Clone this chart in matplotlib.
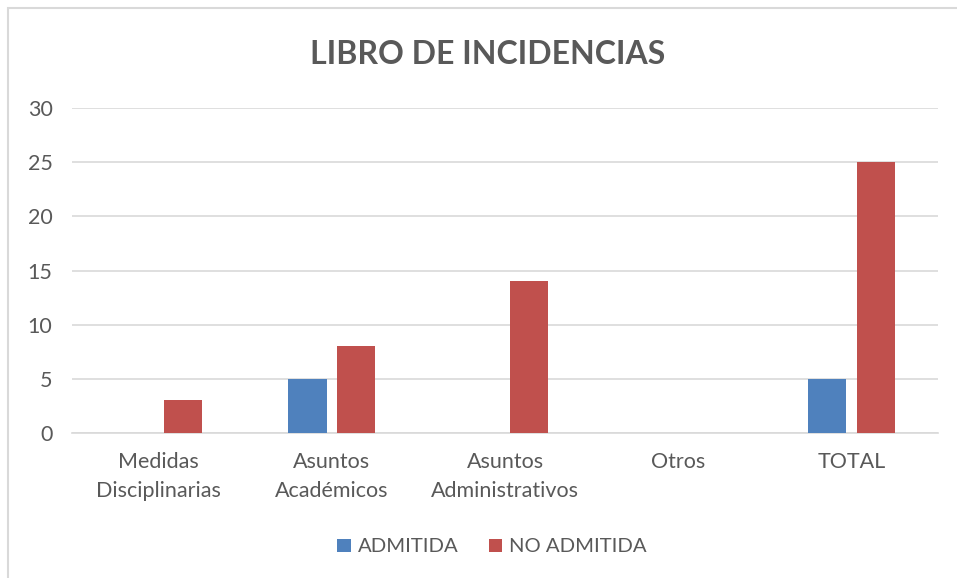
import numpy as np
import matplotlib.pyplot as plt
from matplotlib.patches import Rectangle

categories = ['Medidas\nDisciplinarias', 'Asuntos\nAcadémicos', 'Asuntos\nAdministrativos', 'Otros', 'TOTAL']
admitida = [0, 5, 0, 0, 5]
no_admitida = [3, 8, 14, 0, 25]
yticks = [0, 5, 10, 15, 20, 25, 30]

blue = '#4F81BD'
red = '#C0504D'
text_color = '#595959'

plt.rcParams['font.family'] = ['Lato', 'DejaVu Sans']

fig = plt.figure(figsize=(9.57, 5.78), dpi=100)
fig.patches.append(Rectangle((8 / 957, -0.1), 1.2, 1 - 8.5 / 578 + 0.1, transform=fig.transFigure,
                             fill=False, edgecolor='#D9D9D9', linewidth=1.5))

ax = fig.add_axes([0.0752, 0.2509, 0.905, 0.5622])
x = np.arange(len(categories))
ax.bar(x - 0.14, admitida, width=0.22, color=blue, label='ADMITIDA', zorder=3)
ax.bar(x + 0.14, no_admitida, width=0.22, color=red, label='NO ADMITIDA', zorder=3)

ax.set_xlim(-0.5, len(categories) - 0.5)
ax.set_ylim(0, 30)
ax.set_yticks(yticks)
ax.yaxis.grid(True, color='#D9D9D9', linewidth=1.2, zorder=0)
ax.set_xticks(x)
ax.set_xticklabels(categories, fontsize=15.5, color=text_color, linespacing=1.55)
ax.tick_params(axis='y', labelsize=15.5, labelcolor=text_color, length=0, pad=14)
ax.tick_params(axis='x', length=0, pad=14)
for s in ['top', 'right', 'left']:
    ax.spines[s].set_visible(False)
ax.spines['bottom'].set_color('#D9D9D9')
ax.spines['bottom'].set_linewidth(1.2)

fig.text(488 / 957, 1 - 55 / 578, 'LIBRO DE INCIDENCIAS', ha='center', va='center',
         fontsize=23, fontweight='bold', color=text_color)

fig.legend(loc='center', bbox_to_anchor=(492 / 957, 1 - 547 / 578), ncol=2, frameon=False,
           fontsize=14.6, labelcolor=text_color, handlelength=0.65, handleheight=0.65,
           handletextpad=0.35, columnspacing=1.5)

fig.savefig('out.png', dpi=100)
